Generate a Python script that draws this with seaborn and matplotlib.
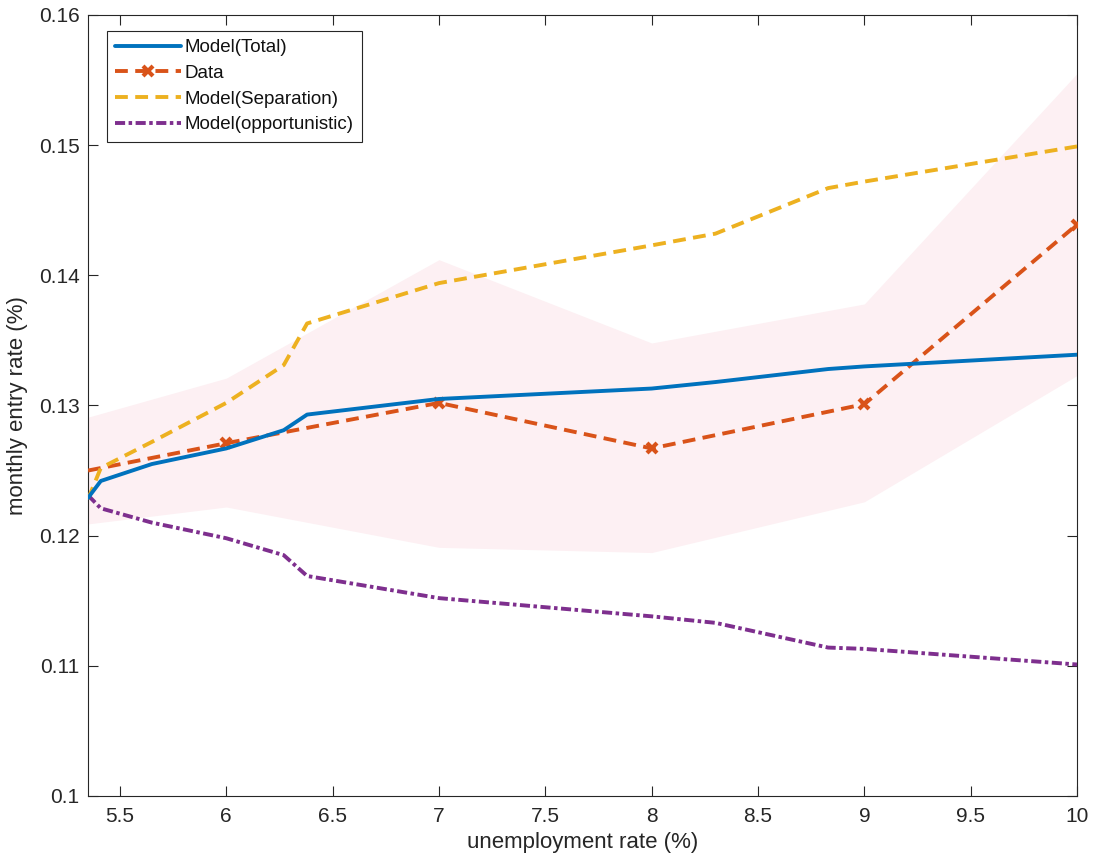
import numpy as np
import pandas as pd
import matplotlib
matplotlib.use("Agg")
import matplotlib.pyplot as plt
import matplotlib.ticker as mticker
import seaborn as sns

# model curves share the same unemployment grid
u_model = [5.35, 5.41, 5.65, 6.0, 6.27, 6.38, 7.0, 8.0, 8.3, 8.83, 9.0, 10.0]
model_total = [0.1229, 0.1242, 0.1255, 0.1267, 0.1281, 0.1293, 0.1305, 0.1313, 0.1318, 0.1328, 0.1330, 0.1339]
model_sep = [0.1228, 0.1252, 0.1272, 0.1302, 0.1331, 0.1363, 0.1394, 0.1423, 0.1432, 0.1467, 0.1472, 0.1499]
model_opp = [0.1231, 0.1221, 0.1210, 0.1198, 0.1185, 0.1169, 0.1152, 0.1138, 0.1133, 0.1114, 0.1113, 0.1101]

# data with confidence band
u_data = [5.35, 6.0, 7.0, 8.0, 9.0, 10.0]
data_rate = [0.1250, 0.1271, 0.1302, 0.1267, 0.1301, 0.1439]
band_upper = [0.1291, 0.1321, 0.1412, 0.1348, 0.1378, 0.1555]
band_lower = [0.1209, 0.1222, 0.1191, 0.1187, 0.1226, 0.1323]

xticks = [5.5, 6, 6.5, 7, 7.5, 8, 8.5, 9, 9.5, 10]
yticks = [0.1, 0.11, 0.12, 0.13, 0.14, 0.15, 0.16]

sns.set_style("white")
plt.rcParams['font.family'] = ['Liberation Sans', 'DejaVu Sans']
txt = '#262626'

fig = plt.figure(figsize=(10.95, 8.65), dpi=100)
ax = fig.add_axes([0.0804, 0.0798, 0.9032, 0.9029])

ax.fill_between(u_data, band_lower, band_upper, color='#fdf0f3', lw=0, zorder=1)

df_m = pd.DataFrame({'u': u_model, 'tot': model_total, 'sep': model_sep, 'opp': model_opp})
df_d = pd.DataFrame({'u': u_data, 'rate': data_rate})

lw = 2.8
sns.lineplot(data=df_m, x='u', y='tot', ax=ax, color='#0072BD', lw=lw,
             label='Model(Total)', zorder=4)
sns.lineplot(data=df_d, x='u', y='rate', ax=ax, color='#D95319', lw=lw,
             linestyle=(0, (3.3, 1.9)), marker='x', markersize=6.5, mew=3,
             mec='#D95319', mfc='#D95319',
             markevery=[1, 2, 3, 4, 5], label='Data', zorder=3)
sns.lineplot(data=df_m, x='u', y='sep', ax=ax, color='#EDB120', lw=lw,
             linestyle=(0, (3.3, 1.9)), label='Model(Separation)', zorder=3)
sns.lineplot(data=df_m, x='u', y='opp', ax=ax, color='#7E2F8E', lw=lw,
             linestyle=(0, (2.6, 0.9, 0.9, 0.9)), label='Model(opportunistic)', zorder=3)

ax.set_xlim(5.35, 10)
ax.set_ylim(0.1, 0.16)
ax.set_xticks(xticks)
ax.set_yticks(yticks)
ax.xaxis.set_major_formatter(mticker.FormatStrFormatter('%g'))
ax.yaxis.set_major_formatter(mticker.FormatStrFormatter('%g'))
ax.tick_params(direction='in', length=7, width=0.8, colors=txt, labelsize=15,
               top=True, right=True, bottom=True, left=True)
ax.tick_params(axis='x', pad=8)
ax.tick_params(axis='y', pad=6)
for s in ax.spines.values():
    s.set_color(txt)
    s.set_linewidth(0.8)

ax.set_xlabel('unemployment rate (%)', fontsize=16, color=txt, labelpad=4)
ax.set_ylabel('monthly entry rate (%)', fontsize=16, color=txt, labelpad=8)

leg = ax.legend(loc='upper left', bbox_to_anchor=(0.019, 0.98), borderaxespad=0,
                fontsize=13.5, handlelength=3.5, handletextpad=0.2, labelspacing=0.46,
                borderpad=0.45, fancybox=False, framealpha=1, edgecolor=txt)
leg.get_frame().set_linewidth(0.8)
for t in leg.get_texts():
    t.set_color('#111111')

fig.savefig('out.png', dpi=100)
